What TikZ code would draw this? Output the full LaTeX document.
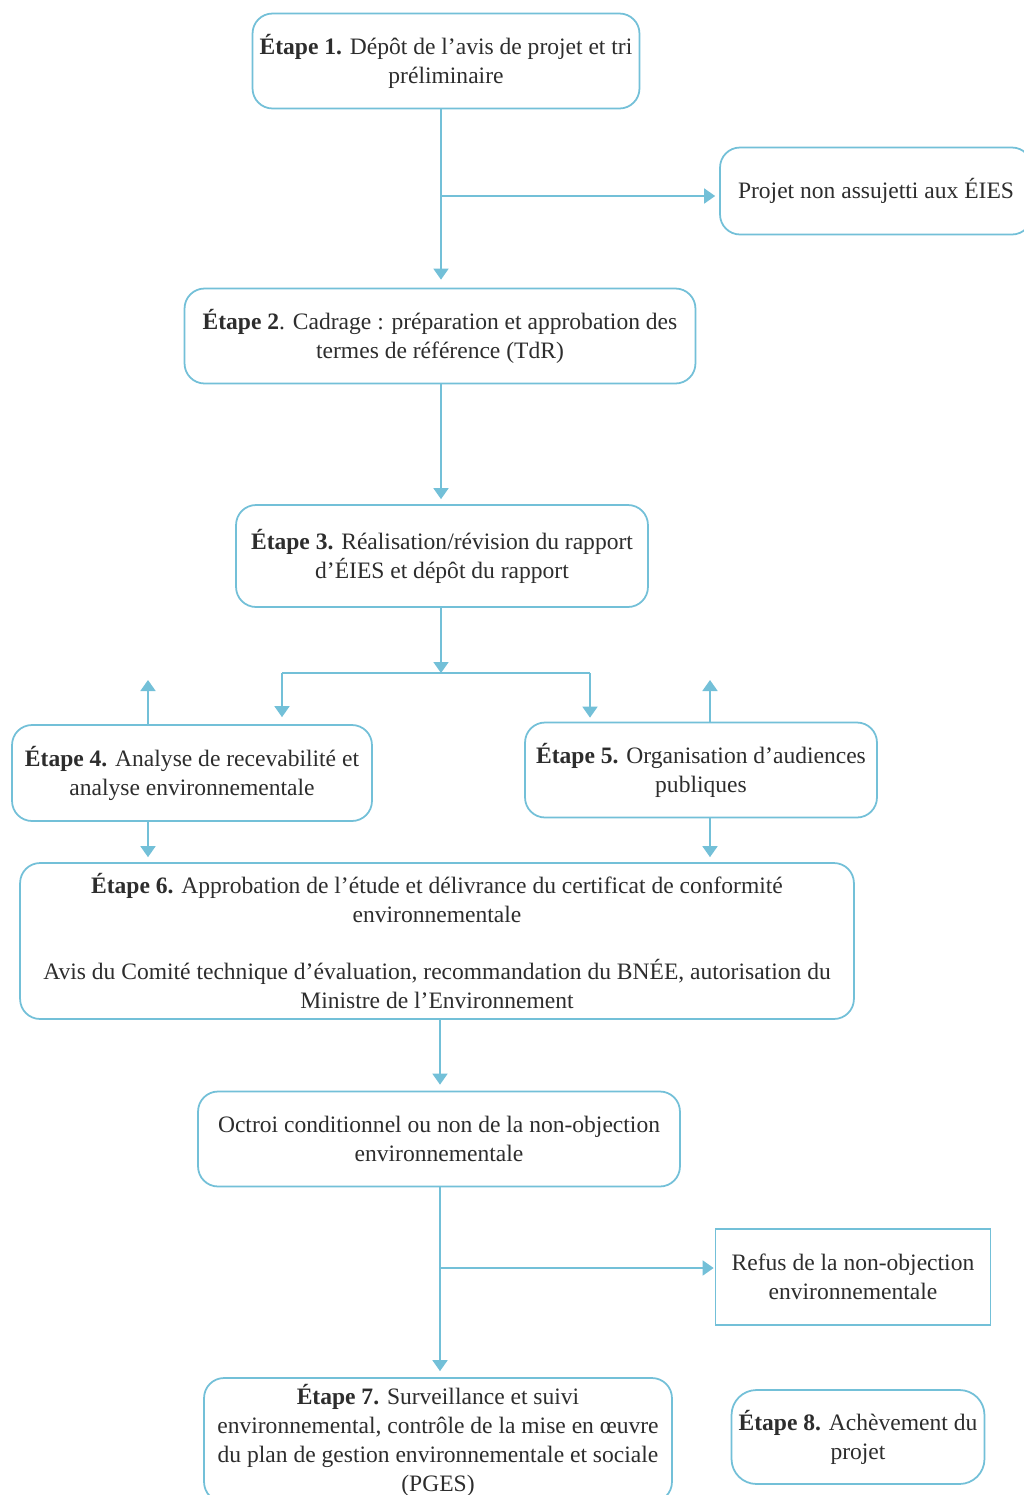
\documentclass[tikz,border=0pt]{standalone}
\usepackage{fontspec}
\setmainfont{Liberation Serif}
\usetikzlibrary{arrows.meta,calc}
\definecolor{lb}{RGB}{115,192,216}
\definecolor{txt}{RGB}{45,45,45}
\begin{document}
\begin{tikzpicture}[x=0.02cm,y=-0.02cm,
  box/.style={draw=lb,line width=1pt,rounded corners=0.4cm,align=center,text=txt,
    font=\fontsize{13.4}{16.5}\selectfont,inner sep=0pt},
  sqbox/.style={box,rounded corners=0pt},
  arr/.style={draw=lb,line width=1pt,-{Triangle[width=0.3cm,length=0.22cm]}},
  ln/.style={draw=lb,line width=1pt}]
\useasboundingbox (0,0) rectangle (1024,1495);
\clip (0,0) rectangle (1024,1495);
\fill[white] (0,0) rectangle (1024,1495);

\node[box,minimum width=7.74cm,minimum height=1.9cm] (s1) at (446,61)
  {\textbf{Étape 1.} Dépôt de l’avis de projet et tri\\préliminaire};
\node[box,minimum width=6.24cm,minimum height=1.74cm] (proj) at (876,191)
  {Projet non assujetti aux ÉIES};
\node[box,minimum width=10.22cm,minimum height=1.9cm] (s2) at (440,336)
  {\textbf{Étape 2}. Cadrage : préparation et approbation des\\termes de référence (TdR)};
\node[box,minimum width=8.24cm,minimum height=2.04cm] (s3) at (442,556)
  {\textbf{Étape 3.} Réalisation/révision du rapport\\d’ÉIES et dépôt du rapport};
\node[box,minimum width=7.2cm,minimum height=1.92cm] (s4) at (192,773)
  {\textbf{Étape 4.} Analyse de recevabilité et\\analyse environnementale};
\node[box,minimum width=7.04cm,minimum height=1.9cm] (s5) at (701,770)
  {\textbf{Étape 5.} Organisation d’audiences\\publiques};
\node[box,minimum width=16.68cm,minimum height=3.12cm] (s6) at (437,941)
  {\textbf{Étape 6.} Approbation de l’étude et délivrance du certificat de conformité\\environnementale\\[16.5pt]Avis du Comité technique d’évaluation, recommandation du BNÉE, autorisation du\\Ministre de l’Environnement};
\node[box,minimum width=9.64cm,minimum height=1.9cm] (oc) at (439,1139)
  {Octroi conditionnel ou non de la non-objection\\environnementale};
\node[sqbox,minimum width=5.5cm,minimum height=1.92cm] (rf) at (853,1277)
  {Refus de la non-objection\\environnementale};
\node[box,minimum width=9.36cm,minimum height=2.48cm] (s7) at (438,1440)
  {\textbf{Étape 7.} Surveillance et suivi\\environnemental, contrôle de la mise en œuvre\\du plan de gestion environnementale et sociale\\(PGES)};
\node[box,rounded corners=0.5cm,minimum width=5.06cm,minimum height=1.88cm] (s8) at (858,1437)
  {\textbf{Étape 8.} Achèvement du\\projet};

% connectors
\coordinate (b1) at (441,196);
\draw[arr,shorten >=0.16cm] (s1.south -| b1) -- (b1 |- s2.north);
\draw[arr,shorten >=0.08cm] (b1) -- (proj.west |- b1);
\draw[arr,shorten >=0.1cm] (s2.south -| b1) -- (b1 |- s3.north);

\coordinate (sp) at (441,673);
\coordinate (c4) at (282,673);
\coordinate (c5) at (590,673);
\draw[arr] (s3.south -| sp) -- (sp);
\draw[ln] (c4) -- (c5);
\draw[arr,shorten >=0.14cm] (c4) -- (c4 |- s4.north);
\draw[arr,shorten >=0.08cm] (c5) -- (c5 |- s5.north);

\coordinate (u4) at (148,680);
\coordinate (u5) at (710,680);
\draw[arr] (u4 |- s4.north) -- (u4);
\draw[arr] (u5 |- s5.north) -- (u5);
\draw[arr,shorten >=0.1cm] (u4 |- s4.south) -- (u4 |- s6.north);
\draw[arr,shorten >=0.1cm] (u5 |- s5.south) -- (u5 |- s6.north);

\coordinate (b6) at (440,1268);
\draw[arr,shorten >=0.12cm] (s6.south -| b6) -- (b6 |- oc.north);
\draw[arr,shorten >=0.12cm] (oc.south -| b6) -- (b6 |- s7.north);
\draw[arr,shorten >=0.02cm] (b6) -- (rf.west |- b6);
\end{tikzpicture}
\end{document}
